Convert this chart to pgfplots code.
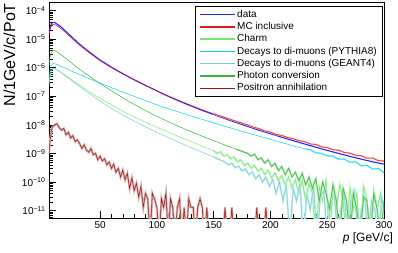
\documentclass[border=0pt]{standalone}
\usepackage{pgfplots}
\pgfplotsset{compat=1.18}
\usepackage{fontspec}
\setmainfont{Liberation Sans}
\definecolor{cdata}{rgb}{0.15,0.15,1}
\definecolor{cmc}{rgb}{0.9,0.1,0.1}
\definecolor{ccharm}{rgb}{0.45,0.92,0.45}
\definecolor{cpyth}{rgb}{0.0,0.85,0.85}
\definecolor{cgeant}{rgb}{0.45,0.82,0.82}
\definecolor{cphot}{rgb}{0.2,0.72,0.2}
\definecolor{cpos}{rgb}{0.6,0.08,0.08}
\pgfplotstableread{
x y
5 1.3e-5
6 2.2e-5
7 2.9e-5
8 3.2e-5
9 3.3e-5
10 3.25e-5
12 2.95e-5
15 2.45e-5
20 1.65e-5
25 1.08e-5
30 7.1e-6
35 4.9e-6
40 3.45e-6
45 2.45e-6
50 1.76e-6
60 1.0e-6
70 6.0e-7
80 3.75e-7
90 2.4e-7
100 1.57e-7
110 1.03e-7
120 7.0e-8
130 4.85e-8
140 3.4e-8
150 2.45e-8
160 1.8e-8
170 1.32e-8
175 1.15e-8
180 9.9e-9
185 8.3e-9
190 7.4e-9
195 6.1e-9
200 5.6e-9
205 4.6e-9
210 4.3e-9
215 3.6e-9
220 3.3e-9
225 2.8e-9
230 2.6e-9
235 2.15e-9
240 2.05e-9
245 1.7e-9
250 1.62e-9
255 1.35e-9
260 1.3e-9
265 1.08e-9
270 1.02e-9
275 8.6e-10
280 8.3e-10
285 6.8e-10
290 6.9e-10
295 5.6e-10
300 5.4e-10
}\mcincl
\pgfplotstableread{
x y
5 2.5e-7
6 5e-7
7 7.5e-7
8 9e-7
9 9.5e-7
10 9.3e-7
12 8.5e-7
15 7.2e-7
20 5.3e-7
25 3.8e-7
30 2.8e-7
40 1.5e-7
50 8.5e-8
60 5.0e-8
70 3.0e-8
80 1.9e-8
90 1.25e-8
100 8.3e-9
110 5.6e-9
120 3.8e-9
130 2.6e-9
140 1.8e-9
150 1.25e-9
153 1.0e-9
156 1.15e-9
159 8e-10
162 9e-10
165 6.5e-10
168 7.5e-10
171 5e-10
174 6e-10
177 3.8e-10
180 4.6e-10
183 3e-10
186 3.8e-10
189 2.4e-10
192 3e-10
195 1.8e-10
198 2.6e-10
201 1.4e-10
204 2.1e-10
207 1.1e-10
210 1.7e-10
213 8e-11
216 1.5e-10
219 6e-11
222 1.2e-10
225 4e-11
228 1.1e-10
231 2.2e-11
234 9e-11
237 4e-11
240 1e-12
243 7e-11
246 2.2e-11
249 1.1e-10
252 1e-12
255 5e-11
258 1.1e-11
261 8e-11
264 2.2e-11
267 1e-12
270 6e-11
273 1.1e-11
276 4e-11
279 1e-12
282 7e-11
285 2.2e-11
288 1e-12
291 5e-11
294 1.1e-11
297 4e-11
300 1e-12
}\charm
\pgfplotstableread{
x y
5 4e-7
6 8e-7
7 1.15e-6
8 1.35e-6
9 1.4e-6
10 1.38e-6
12 1.3e-6
15 1.15e-6
20 9.5e-7
25 7.6e-7
30 6.2e-7
40 4.2e-7
50 2.9e-7
60 2.0e-7
70 1.4e-7
80 1.0e-7
90 7.1e-8
100 5.0e-8
110 3.7e-8
120 2.75e-8
130 2.05e-8
140 1.55e-8
150 1.17e-8
160 8.9e-9
170 6.8e-9
180 5.2e-9
190 4.0e-9
200 3.1e-9
210 2.4e-9
220 1.85e-9
230 1.45e-9
235 1.35e-9
240 1.05e-9
245 1.0e-9
250 8.2e-10
255 8.1e-10
260 6.3e-10
265 6.4e-10
270 4.9e-10
275 5.1e-10
280 3.7e-10
285 3.9e-10
290 2.8e-10
295 3.0e-10
300 2.1e-10
}\pythia
\pgfplotstableread{
x y
5 3e-7
6 5.5e-7
7 7.8e-7
8 9e-7
9 9.3e-7
10 9.1e-7
12 8.3e-7
15 7.0e-7
20 5.0e-7
25 3.5e-7
30 2.5e-7
40 1.3e-7
50 6.8e-8
60 3.8e-8
70 2.2e-8
80 1.35e-8
90 8.5e-9
100 5.5e-9
110 3.6e-9
120 2.4e-9
130 1.6e-9
140 1.1e-9
150 7.5e-10
160 5e-10
163 4e-10
166 4.6e-10
169 3.2e-10
172 3.6e-10
175 2.4e-10
178 2.9e-10
181 1.8e-10
184 2.3e-10
187 1.3e-10
190 1.8e-10
193 1e-10
196 1.5e-10
199 7e-11
202 1.2e-10
205 4e-11
208 1e-10
211 2.2e-11
214 8e-11
217 1e-12
220 6e-11
223 2.2e-11
226 9e-11
229 1e-12
232 4e-11
235 1.1e-11
238 7e-11
241 1e-12
244 3e-11
247 5e-11
250 1e-12
253 2.2e-11
256 6e-11
259 1e-12
262 1.1e-11
265 4e-11
268 1e-12
271 2.2e-11
274 5e-11
277 1e-12
280 1.1e-11
283 3e-11
286 1e-12
289 2.2e-11
292 1.1e-11
295 1e-12
298 3e-11
300 1.1e-11
}\geant
\pgfplotstableread{
x y
5 1.2e-6
6 2.5e-6
7 3.4e-6
8 3.9e-6
9 4.1e-6
10 4.0e-6
12 3.6e-6
15 3.0e-6
20 2.1e-6
25 1.45e-6
30 1.0e-6
35 7.2e-7
40 5.2e-7
50 2.8e-7
60 1.55e-7
70 8.8e-8
80 5.2e-8
90 3.2e-8
100 2.0e-8
110 1.3e-8
120 8.6e-9
130 5.8e-9
140 4.0e-9
150 2.8e-9
160 1.95e-9
170 1.4e-9
180 1.0e-9
183 8e-10
186 9.5e-10
189 6e-10
192 7e-10
195 4.5e-10
198 6e-10
201 3.5e-10
204 4.5e-10
207 2.5e-10
210 3.5e-10
213 1.8e-10
216 3e-10
219 1.5e-10
222 2.2e-10
225 1.1e-10
228 2e-10
231 8e-11
234 1.5e-10
237 6e-11
240 1.3e-10
243 2.2e-11
246 1e-10
249 4e-11
252 1.1e-11
255 8e-11
258 2.2e-11
261 1e-12
264 6e-11
267 2.2e-11
270 1e-12
273 4e-11
276 1.1e-11
279 1e-12
282 3e-11
285 2.2e-11
288 1e-12
291 4e-11
294 1.1e-11
297 1e-12
300 2.2e-11
}\photon
\pgfplotstableread{
x y
5 1e-9
6 3e-9
7 6e-9
8 8.5e-9
10 1.0e-8
12 1.1e-8
14 8e-9
16 6.5e-9
18 7.5e-9
20 4.5e-9
22 5.5e-9
24 3.5e-9
26 4.2e-9
28 2.6e-9
30 3.0e-9
32 2.2e-9
34 1.5e-9
36 2.0e-9
38 1.3e-9
40 1.1e-9
42 1.5e-9
44 9e-10
46 1.0e-9
48 6e-10
50 8e-10
52 5.5e-10
54 6.5e-10
56 4e-10
58 5e-10
60 3e-10
62 4.2e-10
64 2.2e-10
66 3e-10
68 1.5e-10
70 2.6e-10
72 1.2e-10
74 2e-10
76 6e-11
78 1.4e-10
80 5e-11
82 9e-11
84 3e-11
86 7e-11
88 1.3e-11
90 4e-11
92 2.5e-11
94 1e-12
96 4e-11
98 2.5e-11
100 1.3e-11
102 1e-12
104 2.6e-11
106 1.3e-11
108 4e-11
110 1e-12
112 2.6e-11
114 1.3e-11
116 1e-12
118 1.3e-11
120 2.6e-11
122 1e-12
124 1.3e-11
126 1e-12
128 2.6e-11
130 1.3e-11
132 1.3e-11
134 1e-12
136 1.3e-11
138 2.6e-11
140 1.3e-11
142 1e-12
144 1.3e-11
146 1e-12
158 1e-12
160 1.3e-11
162 1e-12
164 1e-12
166 1.3e-11
168 1e-12
186 1e-12
188 1.3e-11
190 1e-12
194 1e-12
196 1.3e-11
198 1e-12
}\positron
\begin{document}
\begin{tikzpicture}
\useasboundingbox (-49pt,-35pt) rectangle (349pt,218pt);
\begin{axis}[
  at={(0,0)}, anchor=south west,
  scale only axis, width=335pt, height=216pt,
  ymode=log, xmin=5, xmax=300, ymin=5.5e-12, ymax=2e-4,
  xtick={50,100,150,200,250,300}, minor x tick num=4,
  ytick={1e-11,1e-10,1e-9,1e-8,1e-7,1e-6,1e-5,1e-4},
  minor ytick={6e-12,7e-12,8e-12,9e-12,
    2e-11,3e-11,4e-11,5e-11,6e-11,7e-11,8e-11,9e-11,
    2e-10,3e-10,4e-10,5e-10,6e-10,7e-10,8e-10,9e-10,
    2e-9,3e-9,4e-9,5e-9,6e-9,7e-9,8e-9,9e-9,
    2e-8,3e-8,4e-8,5e-8,6e-8,7e-8,8e-8,9e-8,
    2e-7,3e-7,4e-7,5e-7,6e-7,7e-7,8e-7,9e-7,
    2e-6,3e-6,4e-6,5e-6,6e-6,7e-6,8e-6,9e-6,
    2e-5,3e-5,4e-5,5e-5,6e-5,7e-5,8e-5,9e-5,2e-4},
  yticklabel={10\textsuperscript{−\pgfmathparse{int(round(-\tick/ln(10)))}\pgfmathresult}},
  xticklabel style={font=\fontsize{10}{12}\selectfont, /pgf/number format/assume math mode=true},
  yticklabel style={font=\fontsize{10}{12}\selectfont},
  xtick pos=lower, ytick pos=left, tick align=inside,
  major tick length=7pt, minor tick length=4pt,
  axis line style={line width=0.6pt},
  tick style={black, line width=0.5pt},
  xlabel={\textit{p} [GeV/c]},
  xlabel style={at={(axis description cs:1.027,-0.093)}, anchor=east, inner sep=0pt, font=\fontsize{12}{14}\selectfont},
  ylabel={N/1GeV/c/PoT},
  ylabel style={at={(axis description cs:-0.118,0.995)}, anchor=east, inner sep=0pt, font=\fontsize{16}{18}\selectfont},
  legend cell align=left,
  legend style={at={(axis description cs:0.997,0.981)}, anchor=north east,
    draw=black, line width=0.6pt, fill=white,
    font=\fontsize{10}{12}\selectfont, inner xsep=4pt, inner ysep=2pt, row sep=0pt,
    nodes={text height=7.4pt, text depth=2.2pt, inner ysep=1.35pt}},
  legend image code/.code={\draw[#1, line width=1.4pt] (0pt,0pt) -- (35pt,0pt);},
  every axis plot/.append style={line width=0.5pt},
]
% data
\addplot[cdata, line width=1.1pt] coordinates {
(5,1.6e-5)(6,2.6e-5)(7,3.4e-5)(8,3.8e-5)(9,3.9e-5)(10,3.8e-5)(12,3.4e-5)(15,2.8e-5)
(20,1.85e-5)(25,1.2e-5)(30,7.8e-6)(35,5.3e-6)(40,3.7e-6)(45,2.6e-6)(50,1.85e-6)
(60,1.05e-6)(70,6.2e-7)(80,3.8e-7)(90,2.4e-7)(100,1.55e-7)(110,1.0e-7)(120,6.7e-8)
(130,4.6e-8)(140,3.2e-8)(150,2.3e-8)(160,1.65e-8)(170,1.2e-8)(180,8.8e-9)(190,6.5e-9)
(200,4.9e-9)(210,3.7e-9)(220,2.8e-9)(230,2.15e-9)(240,1.65e-9)(250,1.28e-9)(260,1.0e-9)
(270,7.9e-10)(280,6.3e-10)(290,5.1e-10)(300,4.2e-10)};
\addlegendentry{data}
% MC inclusive
\addplot[cmc!35, line width=1.6pt, forget plot, restrict x to domain=150:300] table[x=x,y=y] {\mcincl};
\addplot[cmc] table[x=x,y=y] {\mcincl};
\addlegendentry{MC inclusive}
% Charm
\addplot[ccharm!45, line width=1.8pt, forget plot, restrict x to domain=150:300] table[x=x,y=y] {\charm};
\addplot[ccharm] table[x=x,y=y] {\charm};
\addlegendentry{Charm}
% PYTHIA8
\addplot[cpyth!40, line width=1.6pt, forget plot, restrict x to domain=230:300] table[x=x,y=y] {\pythia};
\addplot[cpyth] table[x=x,y=y] {\pythia};
\addlegendentry{Decays to di-muons (PYTHIA8)}
% GEANT4
\addplot[cgeant!45, line width=1.8pt, forget plot, restrict x to domain=150:300] table[x=x,y=y] {\geant};
\addplot[cgeant] table[x=x,y=y] {\geant};
\addlegendentry{Decays to di-muons (GEANT4)}
% Photon conversion
\addplot[cphot!40, line width=1.8pt, forget plot, restrict x to domain=170:300] table[x=x,y=y] {\photon};
\addplot[cphot] table[x=x,y=y] {\photon};
\addlegendentry{Photon conversion}
% Positron annihilation
\addplot[cpos!35, line width=2.2pt, forget plot] table[x=x, y=y] {\positron};
\addplot[cpos] table[x=x, y=y] {\positron};
\addlegendentry{Positron annihilation}
\end{axis}
\end{tikzpicture}
\end{document}
